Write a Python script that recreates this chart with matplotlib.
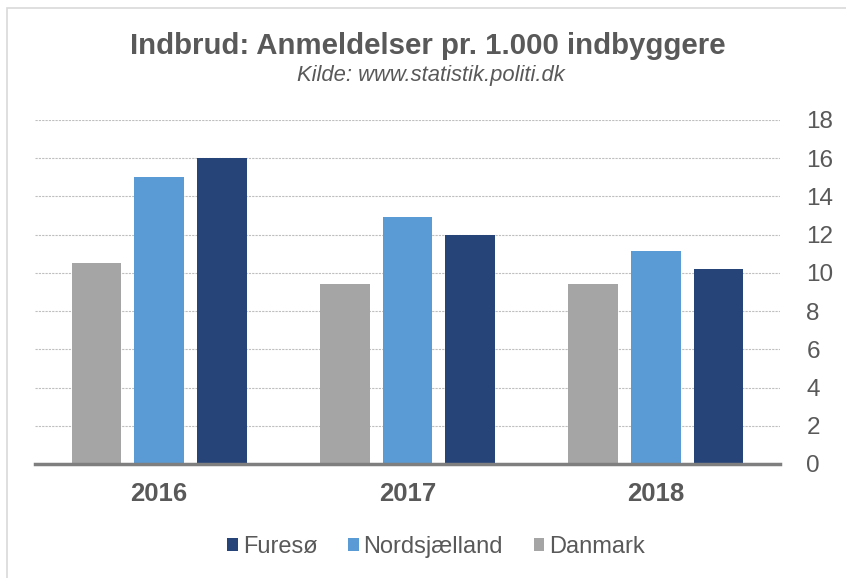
import matplotlib
matplotlib.use("Agg")
import matplotlib.pyplot as plt
import numpy as np
from matplotlib.patches import Rectangle

plt.rcParams['font.family'] = ['Liberation Sans', 'DejaVu Sans']
plt.rcParams['hatch.color'] = '#9a9a9a'
plt.rcParams['hatch.linewidth'] = 0.5

years = ['2016', '2017', '2018']
danmark = [10.5, 9.4, 9.4]
nordsjaelland = [15.0, 12.9, 11.15]
furesoe = [16.0, 12.0, 10.2]
yticks = [0, 2, 4, 6, 8, 10, 12, 14, 16, 18]

fig = plt.figure(figsize=(8.46, 5.78), dpi=100)
fig.patches.append(Rectangle((7/846, -0.1), 1.2, 1.1 - 8/578, transform=fig.transFigure,
                             fill=False, edgecolor='#d9d9d9', linewidth=1.2))
ax = fig.add_axes([35/846, 1 - 464/578, 745/846, 344/578])

x = np.arange(len(years))
w = 0.2
step = 0.252
ax.bar(x - step, danmark, w, color='#a5a5a5', hatch='.....', edgecolor='#a5a5a5',
       linewidth=0, label='Danmark', zorder=3)
ax.bar(x, nordsjaelland, w, color='#5b9bd5', label='Nordsjælland', zorder=3)
ax.bar(x + step, furesoe, w, color='#264478', label='Furesø', zorder=3)

ax.set_xlim(-0.5, 2.5)
ax.set_ylim(0, 18)
ax.set_yticks(yticks)
ax.yaxis.tick_right()
ax.tick_params(axis='y', length=0, pad=19, labelsize=17.5, labelcolor='#595959')
ax.set_xticks(x)
ax.set_xticklabels(years, fontweight='bold')
ax.tick_params(axis='x', length=0, pad=13, labelsize=18.5, labelcolor='#595959')
ax.grid(axis='y', color='#bfbfbf', linestyle=(0, (2, 1)), linewidth=0.8, zorder=0)
for s in ['top', 'left', 'right']:
    ax.spines[s].set_visible(False)
ax.spines['bottom'].set_color('#7f7f7f')
ax.spines['bottom'].set_linewidth(2.5)
ax.spines['bottom'].set_zorder(4)

fig.text(428/846, 1 - 46/578, 'Indbrud: Anmeldelser pr. 1.000 indbyggere', ha='center', va='center',
         fontsize=21.2, fontweight='bold', color='#595959')
fig.text(431/846, 1 - 76/578, 'Kilde: www.statistik.politi.dk', ha='center', va='center',
         fontsize=15.8, style='italic', color='#595959')

h, l = ax.get_legend_handles_labels()
order = [2, 1, 0]
leg = fig.legend([h[i] for i in order], [l[i] for i in order], loc='center',
                 bbox_to_anchor=(436/846, 1 - 547/578), ncol=3, frameon=False,
                 fontsize=17, labelcolor='#595959', handlelength=0.45, handleheight=0.45,
                 handletextpad=0.2, columnspacing=1.3)

fig.savefig('out.png', dpi=100)
